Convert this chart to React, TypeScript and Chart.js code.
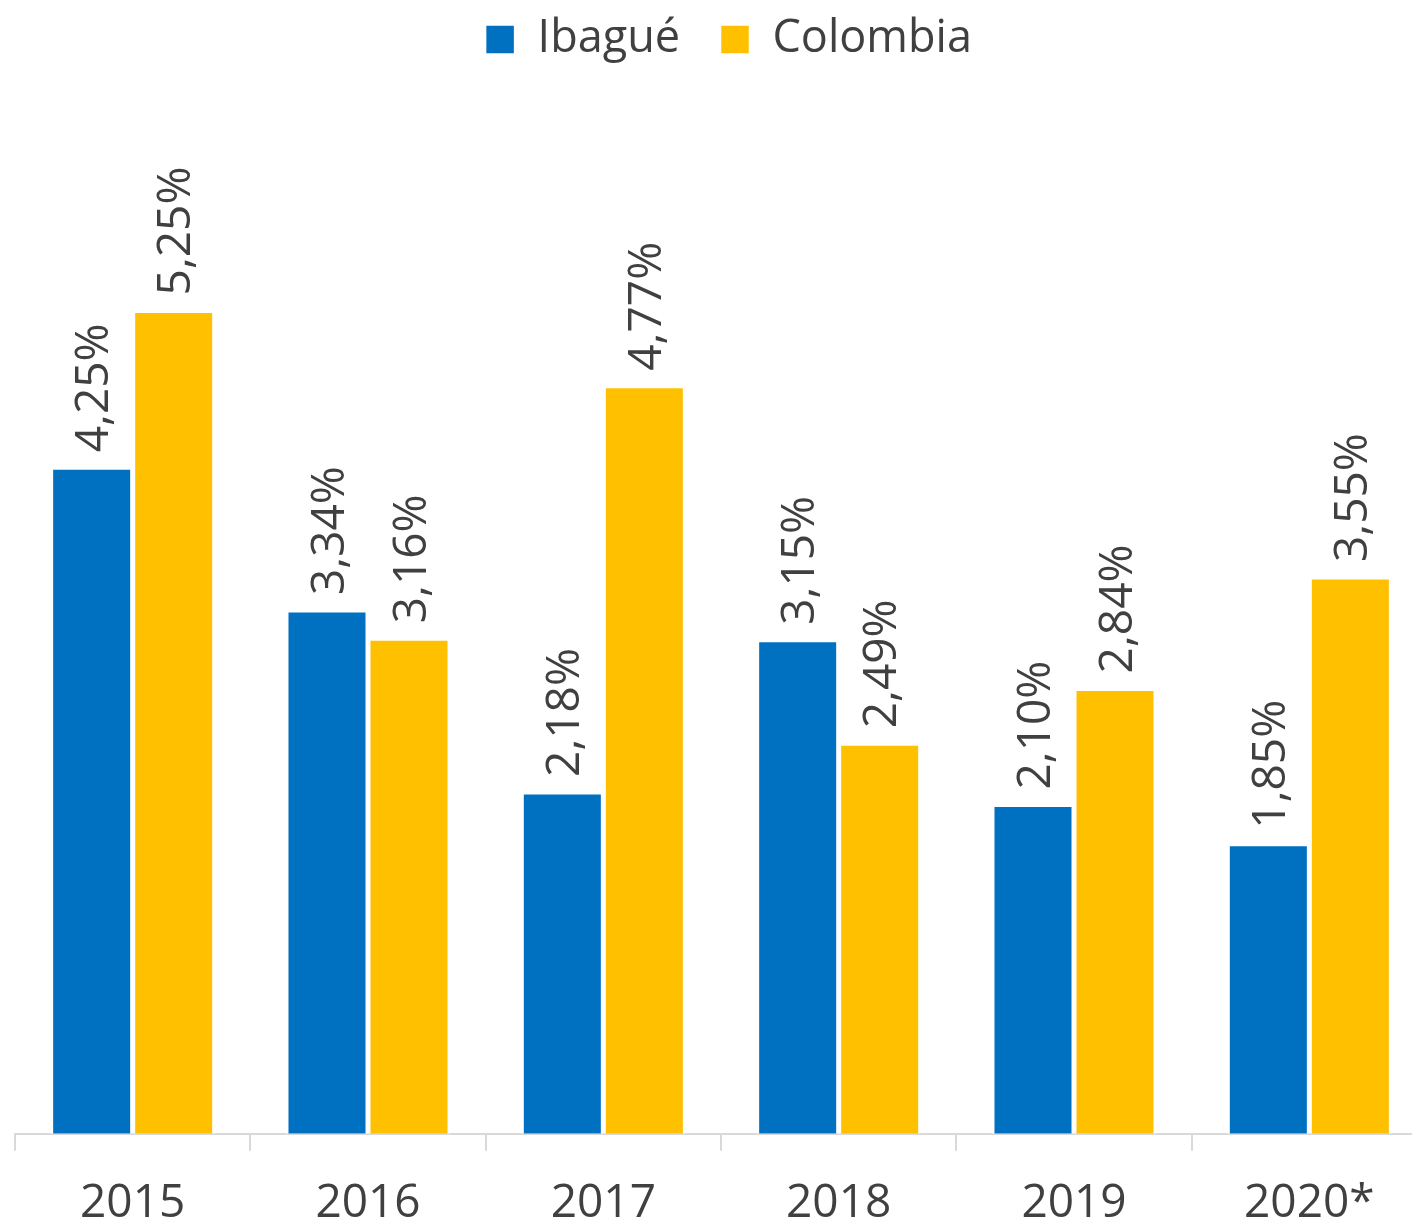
import React, { useEffect, useRef } from "react";
import { Chart, registerables } from "chart.js";

Chart.register(...registerables);

const categories = ["2015", "2016", "2017", "2018", "2019", "2020*"];
const ibague = [4.25, 3.34, 2.18, 3.15, 2.1, 1.85];
const colombia = [5.25, 3.16, 4.77, 2.49, 2.84, 3.55];
const seriesNames = ["Ibagué", "Colombia"];
const seriesColors = ["#0070C0", "#FFC000"];

const FONT = "'Open Sans', 'Noto Sans', sans-serif";
const TEXT = "#404040";

const fmt = (v: number) => v.toFixed(2).replace(".", ",") + "%";

const labelPlugin = {
  id: "rotLabels",
  afterDatasetsDraw(chart: any) {
    const ctx = chart.ctx;
    const size = 46;
    ctx.save();
    ctx.font = `${size}px ${FONT}`;
    ctx.fillStyle = TEXT;
    ctx.textAlign = "left";
    ctx.textBaseline = "alphabetic";
    chart.data.datasets.forEach((ds: any, di: number) => {
      const meta = chart.getDatasetMeta(di);
      meta.data.forEach((bar: any, i: number) => {
        const v = ds.data[i] as number;
        ctx.save();
        ctx.translate(bar.x + size * 0.36, bar.y - 15);
        ctx.rotate(-Math.PI / 2);
        ctx.fillText(fmt(v), 0, 0);
        ctx.restore();
      });
    });
    ctx.restore();
  },
};

export default function App() {
  const ref = useRef<HTMLCanvasElement | null>(null);
  useEffect(() => {
    if (!ref.current) return;
    const chart = new Chart(ref.current, {
      type: "bar",
      data: {
        labels: categories,
        datasets: [
          {
            label: seriesNames[0],
            data: ibague,
            backgroundColor: seriesColors[0],
            borderColor: "#FFFFFF",
            borderWidth: 2.5,
            categoryPercentage: 0.697,
            barPercentage: 1,
          },
          {
            label: seriesNames[1],
            data: colombia,
            backgroundColor: seriesColors[1],
            borderColor: "#FFFFFF",
            borderWidth: 2.5,
            categoryPercentage: 0.697,
            barPercentage: 1,
          },
        ],
      },
      options: {
        responsive: false,
        animation: false,
        devicePixelRatio: 1,
        layout: { padding: { left: 15, right: 0, top: 0, bottom: 0 } },
        plugins: {
          legend: {
            display: true,
            position: "top",
            labels: {
              boxWidth: 30,
              boxHeight: 30,
              padding: 40,
              color: TEXT,
              font: { family: FONT, size: 45 },
            },
          },
          tooltip: { enabled: false },
        },
        scales: {
          x: {
            grid: {
              display: true,
              drawOnChartArea: false,
              drawTicks: true,
              tickLength: 17,
              color: "#D9D9D9",
              lineWidth: 2,
            },
            border: { display: true, color: "#D9D9D9", width: 2 },
            ticks: {
              color: TEXT,
              font: { family: FONT, size: 46 },
              padding: 25,
            },
          },
          y: {
            display: true,
            position: "right",
            min: 0,
            max: 6.77,
            grid: { display: false, drawTicks: false },
            border: { display: false },
            ticks: { display: false },
            afterFit: (scale: any) => {
              scale.width = 15;
            },
          },
        },
      },
      plugins: [labelPlugin],
    });
    return () => chart.destroy();
  }, []);
  return (
    <div
      style={{
        position: "absolute",
        left: 0,
        top: 0,
        width: 1412,
        height: 1220,
        overflow: "hidden",
        background: "#FFFFFF",
      }}
    >
      <canvas
        ref={ref}
        width={1442}
        height={1279}
        style={{ display: "block", position: "absolute", left: 0, top: -23 }}
      />
    </div>
  );
}
